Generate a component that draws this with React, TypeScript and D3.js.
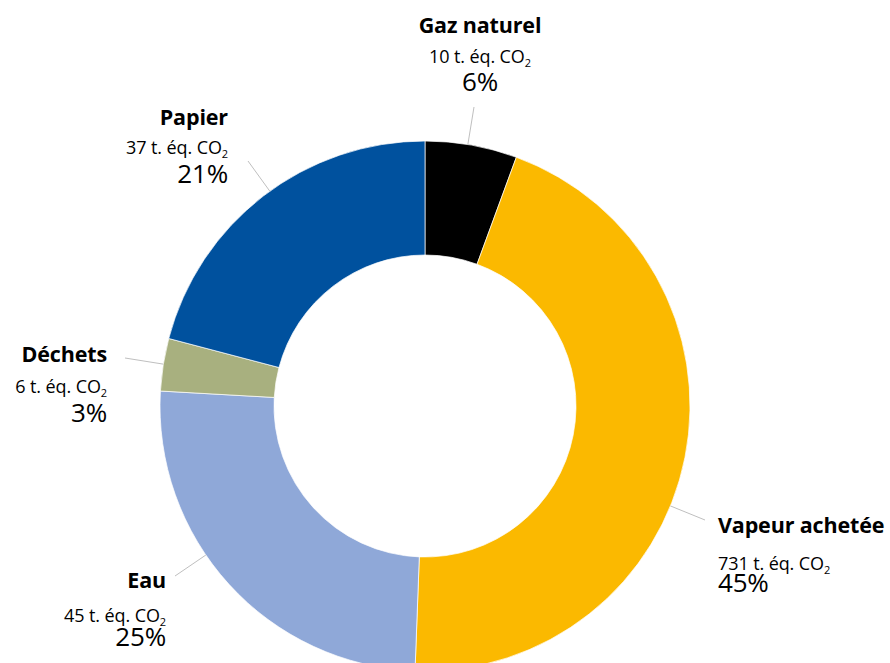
import React from "react";
import * as d3 from "d3";

// Emission sources, in drawing order (clockwise from 12 o'clock)
const categories = ["Gaz naturel", "Vapeur achetée", "Eau", "Déchets", "Papier"];
// Share of total emissions, in percent
const shares = [5.6, 45.0, 25.3, 3.2, 20.9];
// Emissions in tonnes CO2 equivalent, as printed in the labels
const tonnes = [10, 731, 45, 6, 37];
const colors = ["#000000", "#FBB900", "#8FA8D8", "#A8B07F", "#00519E"];

// Label placement: anchor x, text-anchor, baselines of the three lines, leader end
const labelLayout = [
  { x: 480, anchor: "middle", y: [33, 63, 91], leader: [474, 107] },
  { x: 718, anchor: "start", y: [533, 570, 592], leader: [705, 520] },
  { x: 166, anchor: "end", y: [588, 622, 646], leader: [175, 576] },
  { x: 107, anchor: "end", y: [362, 393, 422], leader: [125, 358] },
  { x: 228, anchor: "end", y: [125, 154, 183], leader: [248, 161] },
];

const W = 890;
const H = 663;
const CX = 425;
const CY = 406;
const R_OUT = 265;
const R_IN = 151;
const FONT = "'Open Sans', Lato, sans-serif";

export default function App() {
  const data = categories.map((name, i) => ({
    name,
    value: shares[i],
    tonnes: tonnes[i],
    color: colors[i],
  }));

  const pie = d3
    .pie<(typeof data)[number]>()
    .sort(null)
    .value((d) => d.value)
    .startAngle(0)
    .endAngle(2 * Math.PI);
  const arcs = pie(data);
  const arc = d3
    .arc<d3.PieArcDatum<(typeof data)[number]>>()
    .innerRadius(R_IN)
    .outerRadius(R_OUT);

  const pct = (v: number) => `${Math.round(v)}%`;

  return (
    <svg
      width={W}
      height={H}
      style={{ position: "absolute", left: 0, top: 0, background: "#fff" }}
      fontFamily={FONT}
    >
      <g transform={`translate(${CX},${CY})`}>
        {arcs.map((a, i) => (
          <path
            key={i}
            d={arc(a) ?? ""}
            fill={a.data.color}
            stroke="#ffffff"
            strokeWidth={0.7}
          />
        ))}
      </g>
      {arcs.map((a, i) => {
        const lay = labelLayout[i];
        const [ex, ey] = lay.leader;
        // leader starts where the line from the centre to its end meets the ring
        const ang = Math.atan2(ey - CY, ex - CX);
        const sx = CX + R_OUT * Math.cos(ang);
        const sy = CY + R_OUT * Math.sin(ang);
        return (
          <g key={i}>
            <line x1={sx} y1={sy} x2={ex} y2={ey} stroke="#BFBFBF" strokeWidth={1} />
            <text
              x={lay.x}
              y={lay.y[0]}
              textAnchor={lay.anchor}
              fontSize={21.5}
              fontWeight={700}
              letterSpacing={-0.15}
              fill="#000"
            >
              {a.data.name}
            </text>
            <text
              x={lay.x}
              y={lay.y[1]}
              textAnchor={lay.anchor}
              fontSize={18}
              letterSpacing={-0.1}
              fill="#000"
            >
              {`${a.data.tonnes} t. éq. CO`}
              <tspan fontSize={11} dy={3.5}>
                2
              </tspan>
            </text>
            <text
              x={lay.x}
              y={lay.y[2]}
              textAnchor={lay.anchor}
              fontSize={26}
              letterSpacing={-0.2}
              fill="#000"
            >
              {pct(a.data.value)}
            </text>
          </g>
        );
      })}
    </svg>
  );
}
